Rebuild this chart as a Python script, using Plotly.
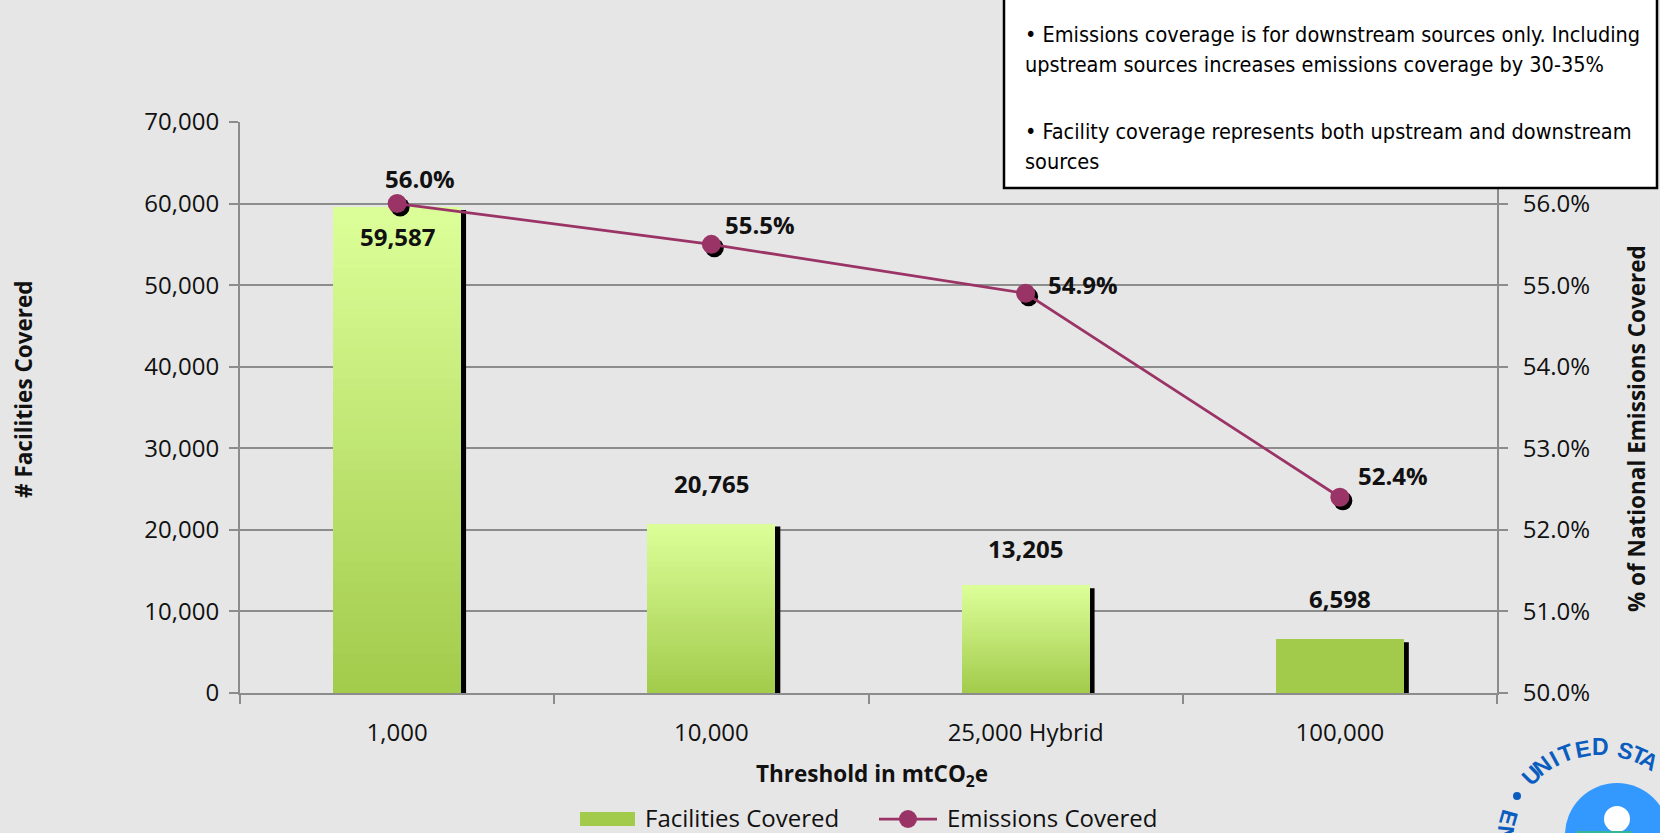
import math
import plotly.graph_objects as go

# ---------------- data ----------------
categories = ["1,000", "10,000", "25,000 Hybrid", "100,000"]
facilities_covered = [59587, 20765, 13205, 6598]
emissions_covered = [0.560, 0.555, 0.549, 0.524]
facility_labels = ["59,587", "20,765", "13,205", "6,598"]
emission_labels = ["56.0%", "55.5%", "54.9%", "52.4%"]
facility_ticks = [0, 10000, 20000, 30000, 40000, 50000, 60000, 70000]
emission_ticks = [0.50, 0.51, 0.52, 0.53, 0.54, 0.55, 0.56]
note_lines = [
    "• Emissions coverage is for downstream sources only. Including",
    "upstream sources increases emissions coverage by 30-35%",
    "• Facility coverage represents both upstream and downstream",
    "sources",
]

# ---------------- page geometry (pixels) ----------------
W, H = 1660, 833
M_L, M_R, M_T, M_B = 240, 163, 122, 140
PW = W - M_L - M_R
PH = H - M_T - M_B
FAC_RANGE = [0, 70000]
PCT_RANGE = [0.50, 0.57]
CAT_RANGE = [-0.5, len(categories) - 0.5]


def paper_x(px):
    return (px - M_L) / PW


def paper_y(py):
    return (H - M_B - py) / PH


# ---------------- styles ----------------
BG = "#e6e6e6"
GRID = "#8c8c8c"
LINE_COLOR = "#9b3466"
BAR_TOP = (221, 255, 153)
BAR_BOTTOM = (162, 203, 75)
BAR_WIDTH = 0.407
bar_gradient = [True, True, True, False]
N_SLICES = 48
TICK_FONT = dict(family="Open Sans", size=24, color="#111111")
LABEL_FONT = dict(family="Open Sans", size=24, color="#111111")
LEGEND_FONT = dict(family="Open Sans", size=24, color="#111111")
TITLE_FONT = dict(family="Open Sans", size=22.5, color="#111111")
NOTE_FONT = dict(family="DejaVu Sans Condensed, Liberation Sans", size=21.5, color="#000000")

# label offsets in pixels (x right, y up) relative to each mark
bar_label_dy = [-30, 40, 37, 41]
pct_label_dx = [23, 49, 57, 53]
pct_label_dy = [25, 20, 9, 22]

# marker shadow offset (pixels)
SH_DX, SH_DY = 3, 3.5
# bar shadow offset (pixels)
BAR_SH_DX, BAR_SH_DY = 5, 3


def rgb(c):
    return "rgb({},{},{})".format(*c)


def mix(a, b, t):
    return rgb([round(a[i] + (b[i] - a[i]) * t) for i in range(3)])


fig = go.Figure()

# ---- bars: stacked slices give a vertical gradient per bar ----
for k in range(N_SLICES):
    t = (k + 0.5) / N_SLICES
    cols = [mix(BAR_BOTTOM, BAR_TOP, t) if g else rgb(BAR_BOTTOM) for g in bar_gradient]
    fig.add_trace(go.Bar(
        x=categories, y=[v / N_SLICES for v in facilities_covered],
        width=BAR_WIDTH, marker=dict(color=cols, line=dict(width=0)),
        xaxis="x", yaxis="y", showlegend=False, hoverinfo="skip",
    ))

# ---- bar drop shadows ----
cat_per_px = (CAT_RANGE[1] - CAT_RANGE[0]) / PW
fac_per_px = (FAC_RANGE[1] - FAC_RANGE[0]) / PH
for i, v in enumerate(facilities_covered):
    fig.add_shape(
        type="rect", xref="x", yref="y", layer="between",
        x0=i - BAR_WIDTH / 2 + BAR_SH_DX * cat_per_px,
        x1=i + BAR_WIDTH / 2 + BAR_SH_DX * cat_per_px,
        y0=0, y1=v - BAR_SH_DY * fac_per_px,
        fillcolor="black", line=dict(width=0),
    )

# ---- marker shadows on shifted overlay axes ----
fig.add_trace(go.Scatter(
    x=categories, y=emissions_covered, mode="markers",
    marker=dict(size=19, color="black"),
    xaxis="x2", yaxis="y2", showlegend=False, hoverinfo="skip",
))

# ---- emissions line ----
fig.add_trace(go.Scatter(
    x=categories, y=emissions_covered, mode="lines+markers",
    line=dict(color=LINE_COLOR, width=2.75),
    marker=dict(size=19, color=LINE_COLOR),
    xaxis="x3", yaxis="y3", showlegend=False,
))

pct_per_px = (PCT_RANGE[1] - PCT_RANGE[0]) / PH
annotations = []

# bar value labels
for i, v in enumerate(facilities_covered):
    annotations.append(dict(
        x=categories[i], y=v, xref="x", yref="y", yshift=bar_label_dy[i],
        text="<b>%s</b>" % facility_labels[i], showarrow=False,
        font=LABEL_FONT, xanchor="center", yanchor="middle",
    ))

# percentage labels
for i, v in enumerate(emissions_covered):
    annotations.append(dict(
        x=categories[i], y=v, xref="x3", yref="y3",
        xshift=pct_label_dx[i], yshift=pct_label_dy[i],
        text="<b>%s</b>" % emission_labels[i], showarrow=False,
        font=LABEL_FONT, xanchor="center", yanchor="middle",
    ))

# axis titles
annotations += [
    dict(x=paper_x(23), y=paper_y(389), xref="paper", yref="paper",
         text="<b># Facilities Covered</b>", textangle=-90, showarrow=False,
         font=TITLE_FONT, xanchor="center", yanchor="middle"),
    dict(x=paper_x(1637), y=paper_y(429), xref="paper", yref="paper",
         text="<b>% of National Emissions Covered</b>", textangle=-90, showarrow=False,
         font=TITLE_FONT, xanchor="center", yanchor="middle"),
    dict(x=paper_x(872), y=paper_y(775), xref="paper", yref="paper",
         text="<b>Threshold in mtCO<sub>2</sub>e</b>", showarrow=False,
         font=TITLE_FONT, xanchor="center", yanchor="middle"),
]

# note box
fig.add_shape(
    type="rect", xref="paper", yref="paper", layer="above",
    x0=paper_x(1004), x1=paper_x(1657), y0=paper_y(188), y1=paper_y(-4),
    fillcolor="white", line=dict(color="black", width=2.5),
)
for text, yc in zip(note_lines, [35, 65, 131, 162]):
    annotations.append(dict(
        x=paper_x(1023), y=paper_y(yc), xref="paper", yref="paper",
        text=text, showarrow=False, font=NOTE_FONT,
        xanchor="left", yanchor="middle",
    ))

# legend
LEG_Y = 817
fig.add_shape(
    type="rect", xref="paper", yref="paper", layer="above",
    x0=paper_x(580), x1=paper_x(635), y0=paper_y(826), y1=paper_y(812),
    fillcolor=rgb(BAR_BOTTOM), line=dict(width=0),
)
annotations.append(dict(
    x=paper_x(643), y=paper_y(LEG_Y), xref="paper", yref="paper",
    text="Facilities Covered", showarrow=False, font=LEGEND_FONT,
    xanchor="left", yanchor="middle",
))
fig.add_shape(
    type="line", xref="paper", yref="paper", layer="above",
    x0=paper_x(879), x1=paper_x(937), y0=paper_y(819), y1=paper_y(819),
    line=dict(color=LINE_COLOR, width=2.75),
)
fig.add_shape(
    type="circle", xref="paper", yref="paper", layer="above",
    x0=paper_x(899), x1=paper_x(917), y0=paper_y(828), y1=paper_y(810),
    fillcolor=LINE_COLOR, line=dict(width=0),
)
annotations.append(dict(
    x=paper_x(945), y=paper_y(LEG_Y), xref="paper", yref="paper",
    text="Emissions Covered", showarrow=False, font=LEGEND_FONT,
    xanchor="left", yanchor="middle",
))

# corner seal (partially visible)
SEAL_BLUE = "#0b5cbf"
fig.add_shape(
    type="circle", xref="paper", yref="paper", layer="above",
    x0=paper_x(1565), x1=paper_x(1669), y0=paper_y(887), y1=paper_y(783),
    fillcolor="#3399ff", line=dict(width=0),
)
fig.add_shape(
    type="circle", xref="paper", yref="paper", layer="above",
    x0=paper_x(1604), x1=paper_x(1630), y0=paper_y(832), y1=paper_y(806),
    fillcolor="white", line=dict(width=0),
)
fig.add_shape(
    type="rect", xref="paper", yref="paper", layer="above",
    x0=paper_x(1576), x1=paper_x(1632), y0=paper_y(834), y1=paper_y(831),
    fillcolor="#33b59a", line=dict(width=0),
)
fig.add_shape(
    type="circle", xref="paper", yref="paper", layer="above",
    x0=paper_x(1513), x1=paper_x(1521), y0=paper_y(800), y1=paper_y(792),
    fillcolor=SEAL_BLUE, line=dict(width=0),
)
SEAL_C = (1600, 844)
SEAL_R = 97
SEAL_FONT = dict(family="Liberation Sans", size=23, color=SEAL_BLUE)
seal_top = [("U", -44.6), ("N", -36.5), ("I", -28.5), ("T", -20.5), ("E", -10.5),
            ("D", 0.0), ("S", 15.5), ("T", 23.5), ("A", 31.0)]
seal_bottom = [("E", -74.0), ("N", -84.0)]
for ch, ang in seal_top:
    a = math.radians(ang)
    annotations.append(dict(
        x=paper_x(SEAL_C[0] + SEAL_R * math.sin(a)),
        y=paper_y(SEAL_C[1] - SEAL_R * math.cos(a)),
        xref="paper", yref="paper", text="<b>%s</b>" % ch, textangle=ang,
        showarrow=False, font=SEAL_FONT, xanchor="center", yanchor="middle",
    ))
for ch, ang in seal_bottom:
    a = math.radians(ang)
    annotations.append(dict(
        x=paper_x(SEAL_C[0] + (SEAL_R - 2) * math.sin(a)),
        y=paper_y(SEAL_C[1] - (SEAL_R - 2) * math.cos(a)),
        xref="paper", yref="paper", text="<b>%s</b>" % ch, textangle=ang + 180,
        showarrow=False, font=SEAL_FONT, xanchor="center", yanchor="middle",
    ))

axis_common = dict(showline=True, linecolor=GRID, linewidth=2,
                   ticks="outside", ticklen=9, tickwidth=2, tickcolor=GRID,
                   tickfont=TICK_FONT, zeroline=False)

fig.update_layout(
    width=W, height=H,
    margin=dict(l=M_L, r=M_R, t=M_T, b=M_B, pad=0),
    paper_bgcolor=BG, plot_bgcolor=BG,
    barmode="stack", bargap=0,
    showlegend=False, hovermode=False,
    xaxis=dict(type="category", range=CAT_RANGE, tickson="boundaries",
               showgrid=False, ticklabelstandoff=17, **axis_common),
    yaxis=dict(range=FAC_RANGE, tickvals=facility_ticks, tickformat=",",
               showgrid=True, gridcolor=GRID, gridwidth=2,
               ticklabelstandoff=5, **axis_common),
    xaxis2=dict(type="category", overlaying="x", visible=False,
                range=[CAT_RANGE[0] - SH_DX * cat_per_px, CAT_RANGE[1] - SH_DX * cat_per_px]),
    yaxis2=dict(overlaying="y", visible=False,
                range=[PCT_RANGE[0] + SH_DY * pct_per_px, PCT_RANGE[1] + SH_DY * pct_per_px]),
    xaxis3=dict(type="category", overlaying="x", visible=False, range=CAT_RANGE),
    yaxis3=dict(overlaying="y", side="right", anchor="x", range=PCT_RANGE,
                tickvals=emission_ticks, tickformat=".1%", showgrid=False,
                ticklabelstandoff=10, **axis_common),
    annotations=annotations,
)

fig.write_html("out.html")
